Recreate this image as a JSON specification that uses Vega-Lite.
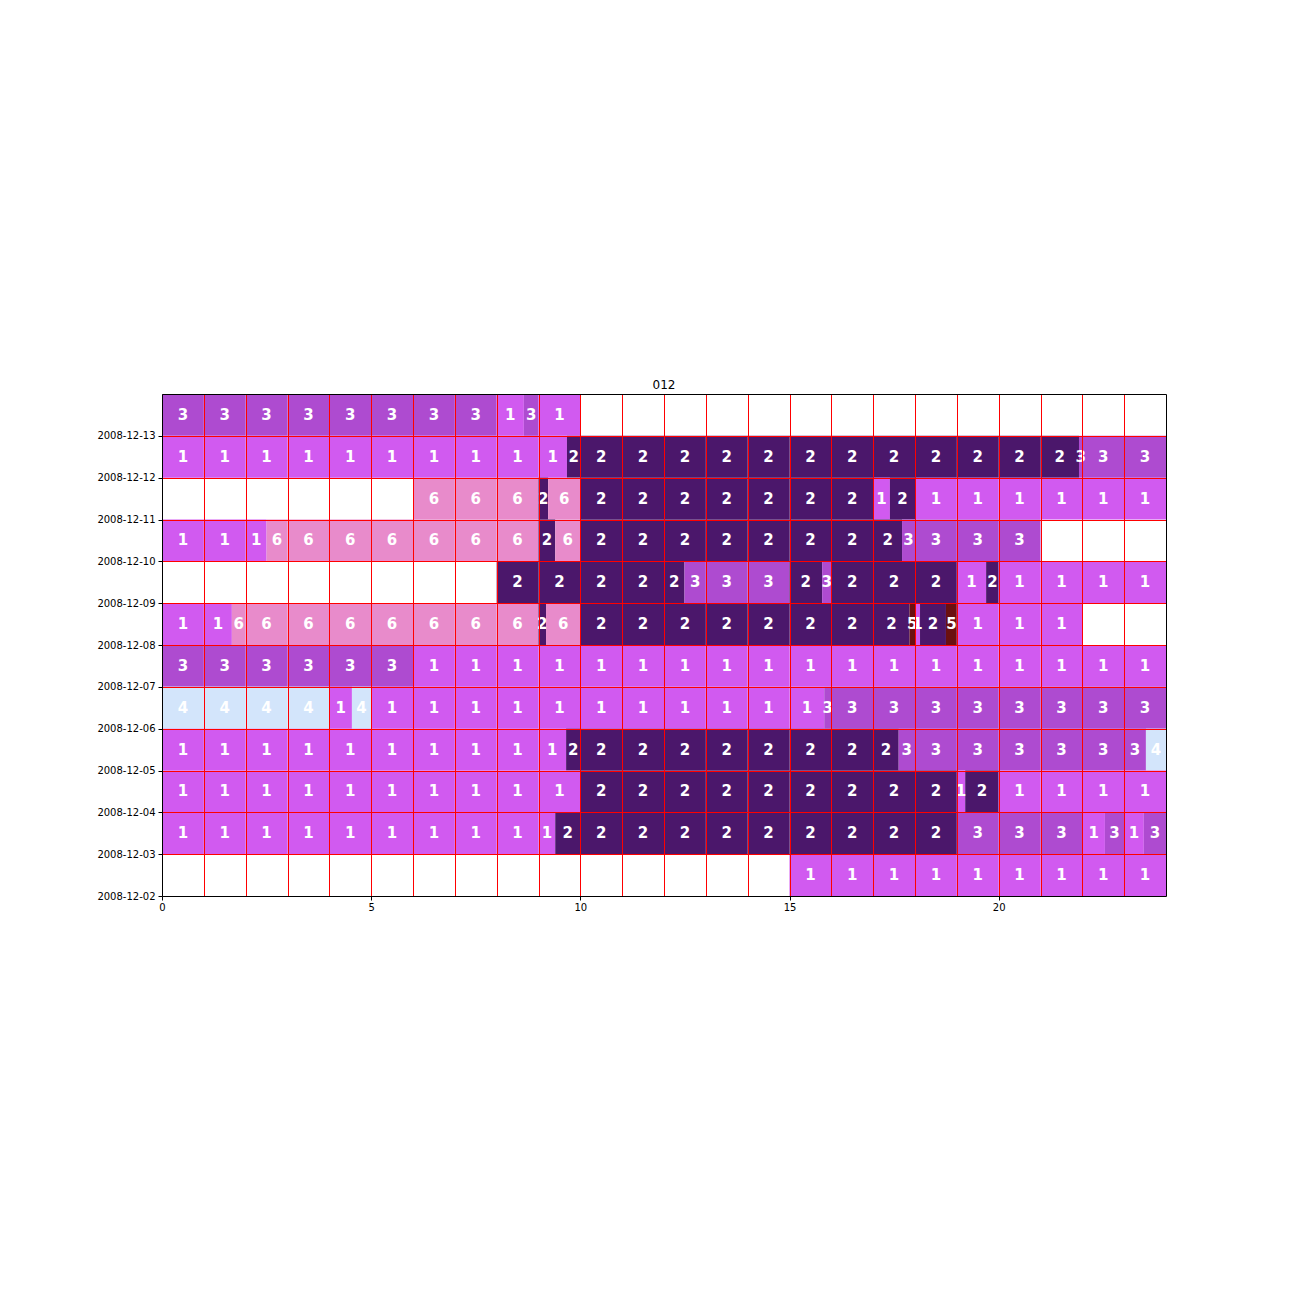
{
"$schema": "https://vega.github.io/schema/vega-lite/v6.json",
"autosize": "none",
"width": 1004,
"height": 502,
"padding": {"left": 162, "top": 394, "right": 130, "bottom": 400},
"background": "white",
"title": {"text": "012", "font": "DejaVu Sans", "fontSize": 12, "fontWeight": "normal", "color": "black", "anchor": "middle", "offset": 2},
"config": {"view": {"stroke": null}, "axis": {"labelFont": "DejaVu Sans", "labelFontSize": 10, "labelColor": "black", "tickColor": "black", "domainColor": "black", "domainWidth": 1, "tickWidth": 1}},
"data": {"values": [
{"d":"2008-12-13","s":0,"e":1,"c":3},{"d":"2008-12-13","s":1,"e":2,"c":3},{"d":"2008-12-13","s":2,"e":3,"c":3},{"d":"2008-12-13","s":3,"e":4,"c":3},{"d":"2008-12-13","s":4,"e":5,"c":3},{"d":"2008-12-13","s":5,"e":6,"c":3},{"d":"2008-12-13","s":6,"e":7,"c":3},{"d":"2008-12-13","s":7,"e":8,"c":3},{"d":"2008-12-13","s":8,"e":8.65,"c":1},{"d":"2008-12-13","s":8.65,"e":9,"c":3},{"d":"2008-12-13","s":9,"e":10,"c":1},
{"d":"2008-12-12","s":0,"e":1,"c":1},{"d":"2008-12-12","s":1,"e":2,"c":1},{"d":"2008-12-12","s":2,"e":3,"c":1},{"d":"2008-12-12","s":3,"e":4,"c":1},{"d":"2008-12-12","s":4,"e":5,"c":1},{"d":"2008-12-12","s":5,"e":6,"c":1},{"d":"2008-12-12","s":6,"e":7,"c":1},{"d":"2008-12-12","s":7,"e":8,"c":1},{"d":"2008-12-12","s":8,"e":9,"c":1},{"d":"2008-12-12","s":9,"e":9.68,"c":1},{"d":"2008-12-12","s":9.68,"e":10,"c":2},{"d":"2008-12-12","s":10,"e":11,"c":2},{"d":"2008-12-12","s":11,"e":12,"c":2},{"d":"2008-12-12","s":12,"e":13,"c":2},{"d":"2008-12-12","s":13,"e":14,"c":2},{"d":"2008-12-12","s":14,"e":15,"c":2},{"d":"2008-12-12","s":15,"e":16,"c":2},{"d":"2008-12-12","s":16,"e":17,"c":2},{"d":"2008-12-12","s":17,"e":18,"c":2},{"d":"2008-12-12","s":18,"e":19,"c":2},{"d":"2008-12-12","s":19,"e":20,"c":2},{"d":"2008-12-12","s":20,"e":21,"c":2},{"d":"2008-12-12","s":21,"e":21.92,"c":2},{"d":"2008-12-12","s":21.92,"e":22,"c":3},{"d":"2008-12-12","s":22,"e":23,"c":3},{"d":"2008-12-12","s":23,"e":24,"c":3},
{"d":"2008-12-11","s":6,"e":7,"c":6},{"d":"2008-12-11","s":7,"e":8,"c":6},{"d":"2008-12-11","s":8,"e":9,"c":6},{"d":"2008-12-11","s":9,"e":9.23,"c":2},{"d":"2008-12-11","s":9.23,"e":10,"c":6},{"d":"2008-12-11","s":10,"e":11,"c":2},{"d":"2008-12-11","s":11,"e":12,"c":2},{"d":"2008-12-11","s":12,"e":13,"c":2},{"d":"2008-12-11","s":13,"e":14,"c":2},{"d":"2008-12-11","s":14,"e":15,"c":2},{"d":"2008-12-11","s":15,"e":16,"c":2},{"d":"2008-12-11","s":16,"e":17,"c":2},{"d":"2008-12-11","s":17,"e":17.4,"c":1},{"d":"2008-12-11","s":17.4,"e":18,"c":2},{"d":"2008-12-11","s":18,"e":19,"c":1},{"d":"2008-12-11","s":19,"e":20,"c":1},{"d":"2008-12-11","s":20,"e":21,"c":1},{"d":"2008-12-11","s":21,"e":22,"c":1},{"d":"2008-12-11","s":22,"e":23,"c":1},{"d":"2008-12-11","s":23,"e":24,"c":1},
{"d":"2008-12-10","s":0,"e":1,"c":1},{"d":"2008-12-10","s":1,"e":2,"c":1},{"d":"2008-12-10","s":2,"e":2.5,"c":1},{"d":"2008-12-10","s":2.5,"e":3,"c":6},{"d":"2008-12-10","s":3,"e":4,"c":6},{"d":"2008-12-10","s":4,"e":5,"c":6},{"d":"2008-12-10","s":5,"e":6,"c":6},{"d":"2008-12-10","s":6,"e":7,"c":6},{"d":"2008-12-10","s":7,"e":8,"c":6},{"d":"2008-12-10","s":8,"e":9,"c":6},{"d":"2008-12-10","s":9,"e":9.4,"c":2},{"d":"2008-12-10","s":9.4,"e":10,"c":6},{"d":"2008-12-10","s":10,"e":11,"c":2},{"d":"2008-12-10","s":11,"e":12,"c":2},{"d":"2008-12-10","s":12,"e":13,"c":2},{"d":"2008-12-10","s":13,"e":14,"c":2},{"d":"2008-12-10","s":14,"e":15,"c":2},{"d":"2008-12-10","s":15,"e":16,"c":2},{"d":"2008-12-10","s":16,"e":17,"c":2},{"d":"2008-12-10","s":17,"e":17.69,"c":2},{"d":"2008-12-10","s":17.69,"e":18,"c":3},{"d":"2008-12-10","s":18,"e":19,"c":3},{"d":"2008-12-10","s":19,"e":20,"c":3},{"d":"2008-12-10","s":20,"e":21,"c":3},
{"d":"2008-12-09","s":8,"e":9,"c":2},{"d":"2008-12-09","s":9,"e":10,"c":2},{"d":"2008-12-09","s":10,"e":11,"c":2},{"d":"2008-12-09","s":11,"e":12,"c":2},{"d":"2008-12-09","s":12,"e":12.49,"c":2},{"d":"2008-12-09","s":12.49,"e":13,"c":3},{"d":"2008-12-09","s":13,"e":14,"c":3},{"d":"2008-12-09","s":14,"e":15,"c":3},{"d":"2008-12-09","s":15,"e":15.78,"c":2},{"d":"2008-12-09","s":15.78,"e":16,"c":3},{"d":"2008-12-09","s":16,"e":17,"c":2},{"d":"2008-12-09","s":17,"e":18,"c":2},{"d":"2008-12-09","s":18,"e":19,"c":2},{"d":"2008-12-09","s":19,"e":19.7,"c":1},{"d":"2008-12-09","s":19.7,"e":20,"c":2},{"d":"2008-12-09","s":20,"e":21,"c":1},{"d":"2008-12-09","s":21,"e":22,"c":1},{"d":"2008-12-09","s":22,"e":23,"c":1},{"d":"2008-12-09","s":23,"e":24,"c":1},
{"d":"2008-12-08","s":0,"e":1,"c":1},{"d":"2008-12-08","s":1,"e":1.67,"c":1},{"d":"2008-12-08","s":1.67,"e":2,"c":6},{"d":"2008-12-08","s":2,"e":3,"c":6},{"d":"2008-12-08","s":3,"e":4,"c":6},{"d":"2008-12-08","s":4,"e":5,"c":6},{"d":"2008-12-08","s":5,"e":6,"c":6},{"d":"2008-12-08","s":6,"e":7,"c":6},{"d":"2008-12-08","s":7,"e":8,"c":6},{"d":"2008-12-08","s":8,"e":9,"c":6},{"d":"2008-12-08","s":9,"e":9.18,"c":2},{"d":"2008-12-08","s":9.18,"e":10,"c":6},{"d":"2008-12-08","s":10,"e":11,"c":2},{"d":"2008-12-08","s":11,"e":12,"c":2},{"d":"2008-12-08","s":12,"e":13,"c":2},{"d":"2008-12-08","s":13,"e":14,"c":2},{"d":"2008-12-08","s":14,"e":15,"c":2},{"d":"2008-12-08","s":15,"e":16,"c":2},{"d":"2008-12-08","s":16,"e":17,"c":2},{"d":"2008-12-08","s":17,"e":17.87,"c":2},{"d":"2008-12-08","s":17.87,"e":18,"c":5},{"d":"2008-12-08","s":18,"e":18.12,"c":1},{"d":"2008-12-08","s":18.12,"e":18.74,"c":2},{"d":"2008-12-08","s":18.74,"e":19,"c":5},{"d":"2008-12-08","s":19,"e":20,"c":1},{"d":"2008-12-08","s":20,"e":21,"c":1},{"d":"2008-12-08","s":21,"e":22,"c":1},
{"d":"2008-12-07","s":0,"e":1,"c":3},{"d":"2008-12-07","s":1,"e":2,"c":3},{"d":"2008-12-07","s":2,"e":3,"c":3},{"d":"2008-12-07","s":3,"e":4,"c":3},{"d":"2008-12-07","s":4,"e":5,"c":3},{"d":"2008-12-07","s":5,"e":6,"c":3},{"d":"2008-12-07","s":6,"e":7,"c":1},{"d":"2008-12-07","s":7,"e":8,"c":1},{"d":"2008-12-07","s":8,"e":9,"c":1},{"d":"2008-12-07","s":9,"e":10,"c":1},{"d":"2008-12-07","s":10,"e":11,"c":1},{"d":"2008-12-07","s":11,"e":12,"c":1},{"d":"2008-12-07","s":12,"e":13,"c":1},{"d":"2008-12-07","s":13,"e":14,"c":1},{"d":"2008-12-07","s":14,"e":15,"c":1},{"d":"2008-12-07","s":15,"e":16,"c":1},{"d":"2008-12-07","s":16,"e":17,"c":1},{"d":"2008-12-07","s":17,"e":18,"c":1},{"d":"2008-12-07","s":18,"e":19,"c":1},{"d":"2008-12-07","s":19,"e":20,"c":1},{"d":"2008-12-07","s":20,"e":21,"c":1},{"d":"2008-12-07","s":21,"e":22,"c":1},{"d":"2008-12-07","s":22,"e":23,"c":1},{"d":"2008-12-07","s":23,"e":24,"c":1},
{"d":"2008-12-06","s":0,"e":1,"c":4},{"d":"2008-12-06","s":1,"e":2,"c":4},{"d":"2008-12-06","s":2,"e":3,"c":4},{"d":"2008-12-06","s":3,"e":4,"c":4},{"d":"2008-12-06","s":4,"e":4.54,"c":1},{"d":"2008-12-06","s":4.54,"e":5,"c":4},{"d":"2008-12-06","s":5,"e":6,"c":1},{"d":"2008-12-06","s":6,"e":7,"c":1},{"d":"2008-12-06","s":7,"e":8,"c":1},{"d":"2008-12-06","s":8,"e":9,"c":1},{"d":"2008-12-06","s":9,"e":10,"c":1},{"d":"2008-12-06","s":10,"e":11,"c":1},{"d":"2008-12-06","s":11,"e":12,"c":1},{"d":"2008-12-06","s":12,"e":13,"c":1},{"d":"2008-12-06","s":13,"e":14,"c":1},{"d":"2008-12-06","s":14,"e":15,"c":1},{"d":"2008-12-06","s":15,"e":15.83,"c":1},{"d":"2008-12-06","s":15.83,"e":16,"c":3},{"d":"2008-12-06","s":16,"e":17,"c":3},{"d":"2008-12-06","s":17,"e":18,"c":3},{"d":"2008-12-06","s":18,"e":19,"c":3},{"d":"2008-12-06","s":19,"e":20,"c":3},{"d":"2008-12-06","s":20,"e":21,"c":3},{"d":"2008-12-06","s":21,"e":22,"c":3},{"d":"2008-12-06","s":22,"e":23,"c":3},{"d":"2008-12-06","s":23,"e":24,"c":3},
{"d":"2008-12-05","s":0,"e":1,"c":1},{"d":"2008-12-05","s":1,"e":2,"c":1},{"d":"2008-12-05","s":2,"e":3,"c":1},{"d":"2008-12-05","s":3,"e":4,"c":1},{"d":"2008-12-05","s":4,"e":5,"c":1},{"d":"2008-12-05","s":5,"e":6,"c":1},{"d":"2008-12-05","s":6,"e":7,"c":1},{"d":"2008-12-05","s":7,"e":8,"c":1},{"d":"2008-12-05","s":8,"e":9,"c":1},{"d":"2008-12-05","s":9,"e":9.66,"c":1},{"d":"2008-12-05","s":9.66,"e":10,"c":2},{"d":"2008-12-05","s":10,"e":11,"c":2},{"d":"2008-12-05","s":11,"e":12,"c":2},{"d":"2008-12-05","s":12,"e":13,"c":2},{"d":"2008-12-05","s":13,"e":14,"c":2},{"d":"2008-12-05","s":14,"e":15,"c":2},{"d":"2008-12-05","s":15,"e":16,"c":2},{"d":"2008-12-05","s":16,"e":17,"c":2},{"d":"2008-12-05","s":17,"e":17.61,"c":2},{"d":"2008-12-05","s":17.61,"e":18,"c":3},{"d":"2008-12-05","s":18,"e":19,"c":3},{"d":"2008-12-05","s":19,"e":20,"c":3},{"d":"2008-12-05","s":20,"e":21,"c":3},{"d":"2008-12-05","s":21,"e":22,"c":3},{"d":"2008-12-05","s":22,"e":23,"c":3},{"d":"2008-12-05","s":23,"e":23.52,"c":3},{"d":"2008-12-05","s":23.52,"e":24,"c":4},
{"d":"2008-12-04","s":0,"e":1,"c":1},{"d":"2008-12-04","s":1,"e":2,"c":1},{"d":"2008-12-04","s":2,"e":3,"c":1},{"d":"2008-12-04","s":3,"e":4,"c":1},{"d":"2008-12-04","s":4,"e":5,"c":1},{"d":"2008-12-04","s":5,"e":6,"c":1},{"d":"2008-12-04","s":6,"e":7,"c":1},{"d":"2008-12-04","s":7,"e":8,"c":1},{"d":"2008-12-04","s":8,"e":9,"c":1},{"d":"2008-12-04","s":9,"e":10,"c":1},{"d":"2008-12-04","s":10,"e":11,"c":2},{"d":"2008-12-04","s":11,"e":12,"c":2},{"d":"2008-12-04","s":12,"e":13,"c":2},{"d":"2008-12-04","s":13,"e":14,"c":2},{"d":"2008-12-04","s":14,"e":15,"c":2},{"d":"2008-12-04","s":15,"e":16,"c":2},{"d":"2008-12-04","s":16,"e":17,"c":2},{"d":"2008-12-04","s":17,"e":18,"c":2},{"d":"2008-12-04","s":18,"e":19,"c":2},{"d":"2008-12-04","s":19,"e":19.2,"c":1},{"d":"2008-12-04","s":19.2,"e":20,"c":2},{"d":"2008-12-04","s":20,"e":21,"c":1},{"d":"2008-12-04","s":21,"e":22,"c":1},{"d":"2008-12-04","s":22,"e":23,"c":1},{"d":"2008-12-04","s":23,"e":24,"c":1},
{"d":"2008-12-03","s":0,"e":1,"c":1},{"d":"2008-12-03","s":1,"e":2,"c":1},{"d":"2008-12-03","s":2,"e":3,"c":1},{"d":"2008-12-03","s":3,"e":4,"c":1},{"d":"2008-12-03","s":4,"e":5,"c":1},{"d":"2008-12-03","s":5,"e":6,"c":1},{"d":"2008-12-03","s":6,"e":7,"c":1},{"d":"2008-12-03","s":7,"e":8,"c":1},{"d":"2008-12-03","s":8,"e":9,"c":1},{"d":"2008-12-03","s":9,"e":9.4,"c":1},{"d":"2008-12-03","s":9.4,"e":10,"c":2},{"d":"2008-12-03","s":10,"e":11,"c":2},{"d":"2008-12-03","s":11,"e":12,"c":2},{"d":"2008-12-03","s":12,"e":13,"c":2},{"d":"2008-12-03","s":13,"e":14,"c":2},{"d":"2008-12-03","s":14,"e":15,"c":2},{"d":"2008-12-03","s":15,"e":16,"c":2},{"d":"2008-12-03","s":16,"e":17,"c":2},{"d":"2008-12-03","s":17,"e":18,"c":2},{"d":"2008-12-03","s":18,"e":19,"c":2},{"d":"2008-12-03","s":19,"e":20,"c":3},{"d":"2008-12-03","s":20,"e":21,"c":3},{"d":"2008-12-03","s":21,"e":22,"c":3},{"d":"2008-12-03","s":22,"e":22.54,"c":1},{"d":"2008-12-03","s":22.54,"e":23,"c":3},{"d":"2008-12-03","s":23,"e":23.47,"c":1},{"d":"2008-12-03","s":23.47,"e":24,"c":3},
{"d":"2008-12-02","s":15,"e":16,"c":1},{"d":"2008-12-02","s":16,"e":17,"c":1},{"d":"2008-12-02","s":17,"e":18,"c":1},{"d":"2008-12-02","s":18,"e":19,"c":1},{"d":"2008-12-02","s":19,"e":20,"c":1},{"d":"2008-12-02","s":20,"e":21,"c":1},{"d":"2008-12-02","s":21,"e":22,"c":1},{"d":"2008-12-02","s":22,"e":23,"c":1},{"d":"2008-12-02","s":23,"e":24,"c":1}
]},
"layer": [
{
"mark": {"type": "rect", "strokeWidth": 0},
"encoding": {
"x": {"field": "s", "type": "quantitative", "scale": {"domain": [0, 24], "nice": false, "zero": false},
"axis": {"orient": "bottom", "title": null, "values": [0,1,2,3,4,5,6,7,8,9,10,11,12,13,14,15,16,17,18,19,20,21,22,23,24], "grid": true, "gridColor": "#ff0000", "gridWidth": 1, "gridOpacity": {"condition": {"test": "datum.value > 0 && datum.value < 24", "value": 1}, "value": 0}, "tickOpacity": {"condition": {"test": "datum.value % 5 === 0 && datum.value < 24", "value": 1}, "value": 0}, "labelExpr": "datum.value % 5 === 0 && datum.value < 24 ? datum.label : ''", "tickSize": 4, "labelPadding": 2, "labelFlush": false, "labelOverlap": false, "zindex": 1}},
"x2": {"field": "e"},
"y": {"field": "d", "type": "ordinal", "scale": {"domain": ["2008-12-13","2008-12-12","2008-12-11","2008-12-10","2008-12-09","2008-12-08","2008-12-07","2008-12-06","2008-12-05","2008-12-04","2008-12-03","2008-12-02"], "paddingInner": 0, "paddingOuter": 0},
"axis": {"orient": "left", "title": null, "tickBand": "center", "tickOffset": 20.9167, "grid": true, "gridColor": "#ff0000", "gridWidth": 1, "gridOpacity": {"condition": {"test": "datum.value !== '2008-12-02'", "value": 1}, "value": 0}, "tickSize": 4, "labelPadding": 3, "labelOverlap": false, "zindex": 1}},
"color": {"field": "c", "type": "nominal", "scale": {"domain": [1, 2, 3, 4, 5, 6], "range": ["#d15af0", "#4b176b", "#ae4bd0", "#d3e5fb", "#6b1010", "#e88bcb"]}, "legend": null}
}
},
{
"transform": [{"fold": ["s", "e"], "as": ["k", "v"]}],
"mark": {"type": "text", "font": "DejaVu Sans", "fontWeight": "bold", "fontSize": 15, "color": "white", "align": "center", "baseline": "middle"},
"encoding": {
"x": {"aggregate": "mean", "field": "v", "type": "quantitative", "axis": {"orient": "top", "title": null, "labels": false, "ticks": false, "grid": false, "domain": true, "zindex": 1}},
"y": {"field": "d", "type": "ordinal", "axis": {"orient": "right", "title": null, "labels": false, "ticks": false, "grid": false, "domain": true, "zindex": 1}},
"text": {"field": "c", "type": "nominal"},
"detail": [{"field": "s", "type": "nominal"}, {"field": "e", "type": "nominal"}]
}
}
],
"resolve": {"axis": {"x": "independent", "y": "independent"}}
}
